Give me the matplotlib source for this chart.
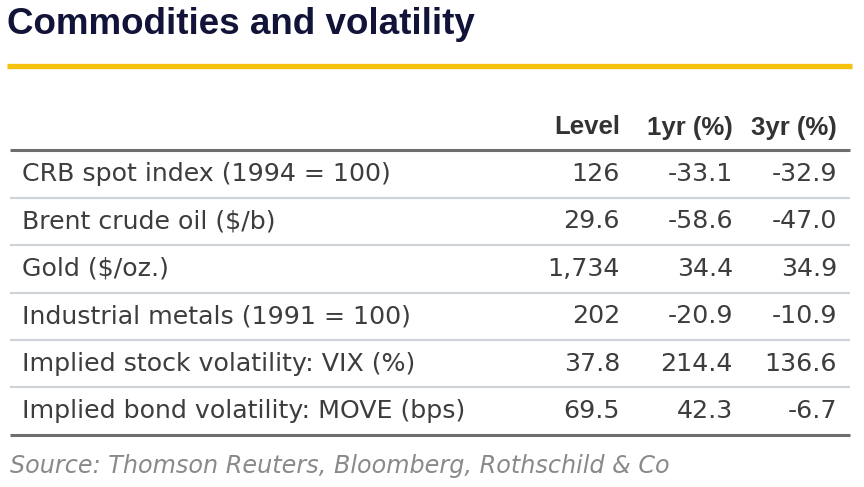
import matplotlib
matplotlib.use("Agg")
import matplotlib.pyplot as plt
from matplotlib import font_manager

title = "Commodities and volatility"
columns = ["Level", "1yr (%)", "3yr (%)"]
rows = [
    "CRB spot index (1994 = 100)",
    "Brent crude oil ($/b)",
    "Gold ($/oz.)",
    "Industrial metals (1991 = 100)",
    "Implied stock volatility: VIX (%)",
    "Implied bond volatility: MOVE (bps)",
]
level = ["126", "29.6", "1,734", "202", "37.8", "69.5"]
one_yr = ["-33.1", "-58.6", "34.4", "-20.9", "214.4", "42.3"]
three_yr = ["-32.9", "-47.0", "34.9", "-10.9", "136.6", "-6.7"]
source = "Source: Thomson Reuters, Bloomberg, Rothschild & Co"

names = {f.name for f in font_manager.fontManager.ttflist}
narrow = "Liberation Sans Narrow" if "Liberation Sans Narrow" in names else "Liberation Sans"

W, H = 864, 487
fig = plt.figure(figsize=(W / 100, H / 100), dpi=100)
ax = fig.add_axes([0, 0, 1, 1])
ax.set_xlim(0, W)
ax.set_ylim(H, 0)
ax.axis("off")

# title + yellow rule
ax.text(7, 25, title, fontsize=26.5, family=narrow, color="#111338",
        va="center", ha="left", fontweight="bold")
ax.plot([7, 852], [65.5, 65.5], color="#f4c20d", lw=3.8, solid_capstyle="butt")

txt_col = "#3d3d3d"
col_right = [620, 733, 837]
fs = 18.2

# header
for x, c in zip(col_right, columns):
    ax.text(x, 127.5, c, fontsize=18.5, family=narrow, color="#333333",
            ha="right", va="center", fontweight="bold")
ax.plot([10, 850], [150, 150], color="#6e6e6e", lw=2.2, solid_capstyle="butt")

row_h = 47.4
y0 = 174
for i, name in enumerate(rows):
    y = y0 + i * row_h
    ax.text(22, y, name, fontsize=fs, color=txt_col, ha="left", va="center")
    for x, v in zip(col_right, [level[i], one_yr[i], three_yr[i]]):
        ax.text(x, y, v, fontsize=fs, color=txt_col, ha="right", va="center")
    if i < len(rows) - 1:
        ax.plot([10, 850], [y + row_h / 2, y + row_h / 2], color="#cfd2d6",
                lw=1.6, solid_capstyle="butt")
ax.plot([10, 850], [435, 435], color="#6e6e6e", lw=2.2, solid_capstyle="butt")

ax.text(10, 466, source, fontsize=17.2, color="#8a8a8a", style="italic",
        ha="left", va="center")

fig.savefig("out.png", dpi=100)
